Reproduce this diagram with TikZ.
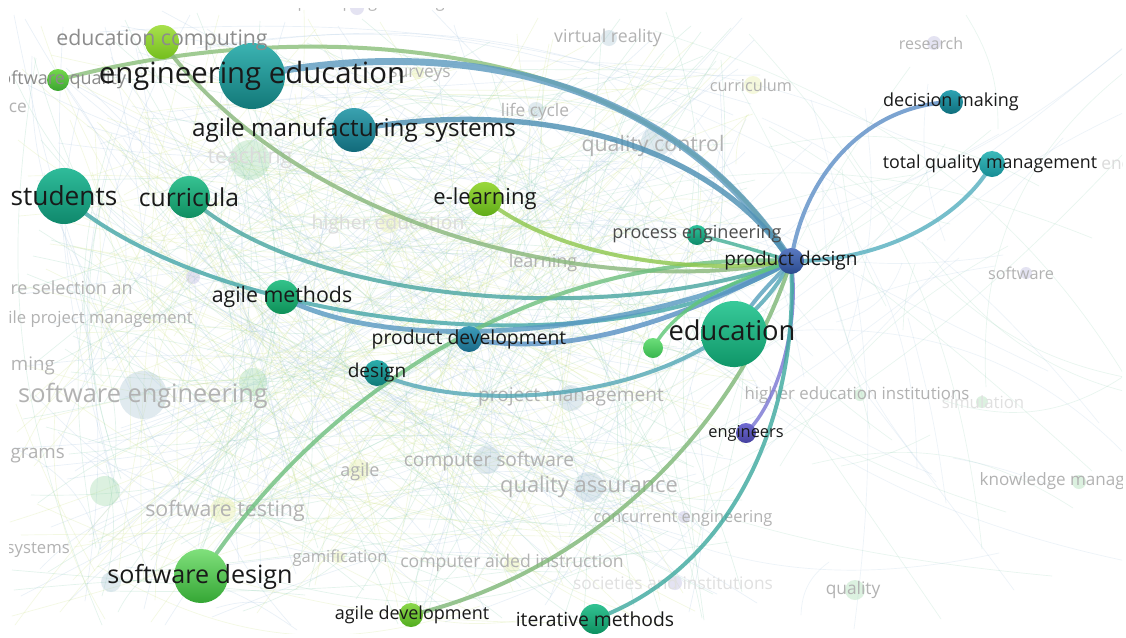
\documentclass[tikz,border=0pt]{standalone}
\usepackage{fontspec}
\setmainfont{Open Sans}
\usepackage{tikz}
\usetikzlibrary{backgrounds}
\usepackage{xcolor}
% node colours (top / bottom of each ball)
\definecolor{eeTop}{HTML}{3BB3B2}  \definecolor{eeBot}{HTML}{127878}
\definecolor{ecTop}{HTML}{A8E04C}  \definecolor{ecBot}{HTML}{74BE1E}
\definecolor{sqTop}{HTML}{74D84C}  \definecolor{sqBot}{HTML}{3AA430}
\definecolor{amTop}{HTML}{3AA2B0}  \definecolor{amBot}{HTML}{116A7A}
\definecolor{stTop}{HTML}{2FBC9A}  \definecolor{stBot}{HTML}{0F886C}
\definecolor{cuTop}{HTML}{36C292}  \definecolor{cuBot}{HTML}{0F8E60}
\definecolor{elTop}{HTML}{9AD83C}  \definecolor{elBot}{HTML}{60AC18}
\definecolor{agTop}{HTML}{32C28A}  \definecolor{agBot}{HTML}{0E9058}
\definecolor{pvTop}{HTML}{3C9CBA}  \definecolor{pvBot}{HTML}{1A6A88}
\definecolor{dsTop}{HTML}{2CAEAC}  \definecolor{dsBot}{HTML}{0F7A78}
\definecolor{peTop}{HTML}{2CC29A}  \definecolor{peBot}{HTML}{0F8A68}
\definecolor{pdTop}{HTML}{5A7AC2}  \definecolor{pdBot}{HTML}{2A4A8E}
\definecolor{dmTop}{HTML}{2CA2B2}  \definecolor{dmBot}{HTML}{0F6E7C}
\definecolor{tqTop}{HTML}{3CBABA}  \definecolor{tqBot}{HTML}{178C94}
\definecolor{edTop}{HTML}{38CA9A}  \definecolor{edBot}{HTML}{0F9668}
\definecolor{sgTop}{HTML}{6CDE7A}  \definecolor{sgBot}{HTML}{38B64E}
\definecolor{enTop}{HTML}{706CD2}  \definecolor{enBot}{HTML}{45409E}
\definecolor{sdTop}{HTML}{80E07C}  \definecolor{sdBot}{HTML}{34A634}
\definecolor{adTop}{HTML}{8CD84C}  \definecolor{adBot}{HTML}{52AC1E}
\definecolor{imTop}{HTML}{32C292}  \definecolor{imBot}{HTML}{0E9060}
% link colours
\definecolor{lkSq}{HTML}{8CC07C}
\definecolor{lkEe}{HTML}{5F9CC0}
\definecolor{lkAm}{HTML}{4E90B4}
\definecolor{lkEc}{HTML}{8AB87C}
\definecolor{lkSt}{HTML}{48A8AA}
\definecolor{lkCu}{HTML}{4BA7A2}
\definecolor{lkAg}{HTML}{5A9AC2}
\definecolor{lkPv}{HTML}{5A92C4}
\definecolor{lkDs}{HTML}{55A8B6}
\definecolor{lkSd}{HTML}{70C080}
\definecolor{lkEl}{HTML}{90C850}
\definecolor{lkPe}{HTML}{48B098}
\definecolor{lkSg}{HTML}{60C878}
\definecolor{lkEd}{HTML}{5AA2BE}
\definecolor{lkEn}{HTML}{7C78D4}
\definecolor{lkIm}{HTML}{40AAA0}
\definecolor{lkAd}{HTML}{80B878}
\definecolor{lkDm}{HTML}{6090C8}
\definecolor{lkTq}{HTML}{58B0C0}
% faint network colours
\definecolor{bg0}{HTML}{8CCFB0}
\definecolor{bg1}{HTML}{A4C4E0}
\definecolor{bg2}{HTML}{CFE488}
\definecolor{fGreen}{HTML}{9CD8A8}
\definecolor{fBlue}{HTML}{A8C4D4}
\definecolor{fYellow}{HTML}{E4EC9C}
\definecolor{fPurple}{HTML}{B4B0DC}
\tikzset{
    % Node styles
    kw/.style n args={3}{
        circle,
        inner sep=0pt,
        draw=none,
        minimum size=#1*1.5pt,
        top color=#2,
        bottom color=#3
    },
    faintkw/.style 2 args={
        circle,
        inner sep=0pt,
        draw=none,
        minimum size=#1*1.5pt,
        fill=#2,
        opacity=0.35
    },
    fsz/.style={font=\fontsize{#1pt}{#1pt}\selectfont},
    kwlabel/.style={text=black!90, inner sep=0pt},
    greylabel/.style={text=black!45, inner sep=0pt},
    faintlabel/.style={text=black!30, inner sep=0pt},
    % Link styles
    link/.style={line cap=round, opacity=0.82},
    bgline/.style={line width=0.5pt, opacity=0.24}
}

\begin{document}
\begin{tikzpicture}[x=0.75pt, y=-0.75pt]
    \useasboundingbox (0,0) rectangle (1126,637);
    \clip (9,8) rectangle (1122,633);

    % Highlighted keywords
    \node[kw={33}{eeTop}{eeBot}] (ee) at (252,76) {};
    \node[kw={17}{ecTop}{ecBot}] (ec) at (162,42) {};
    \node[kw={11}{sqTop}{sqBot}] (sq) at (58,80) {};
    \node[kw={22}{amTop}{amBot}] (am) at (354,130) {};
    \node[kw={28}{stTop}{stBot}] (st) at (64,196) {};
    \node[kw={21}{cuTop}{cuBot}] (cu) at (189,197) {};
    \node[kw={17}{elTop}{elBot}] (el) at (485,199) {};
    \node[kw={17}{agTop}{agBot}] (ag) at (282,297) {};
    \node[kw={13}{pvTop}{pvBot}] (pv) at (469,339) {};
    \node[kw={13}{dsTop}{dsBot}] (ds) at (377,373) {};
    \node[kw={10}{peTop}{peBot}] (pe) at (697,235) {};
    \node[kw={13}{pdTop}{pdBot}] (pd) at (791,261) {};
    \node[kw={12}{dmTop}{dmBot}] (dm) at (951,102) {};
    \node[kw={13}{tqTop}{tqBot}] (tq) at (992,164) {};
    \node[kw={33}{edTop}{edBot}] (ed) at (734,334) {};
    \node[kw={10}{sgTop}{sgBot}] (sg) at (653,348) {};
    \node[kw={10}{enTop}{enBot}] (en) at (746,433) {};
    \node[kw={27}{sdTop}{sdBot}] (sd) at (201,576) {};
    \node[kw={12}{adTop}{adBot}] (ad) at (411,615) {};
    \node[kw={15}{imTop}{imBot}] (im) at (595,619) {};

    % Labels
    \node[greylabel, fsz=16] (ec-l) at (162,40) {education computing};
    \node[greylabel, fsz=13.5] (sq-l) at (59,80) {software quality};
    \node[kwlabel, fsz=22] (ee-l) at (ee) {engineering education};
    \node[kwlabel, fsz=18.2] (am-l) at (am) {agile manufacturing systems};
    \node[kwlabel, fsz=19.7] (st-l) at (st) {students};
    \node[kwlabel, fsz=18.5] (cu-l) at (cu) {curricula};
    \node[kwlabel, fsz=16.5] (el-l) at (el) {e-learning};
    \node[kwlabel, fsz=16] (ag-l) at (ag) {agile methods};
    \node[kwlabel, fsz=14.5] (pv-l) at (pv) {product development};
    \node[kwlabel, fsz=14.3] (ds-l) at (ds) {design};
    \node[text=black!70, inner sep=0pt, fsz=13.5] (pe-l) at (697,234) {process engineering};
    \node[kwlabel, fsz=14.3] (pd-l) at (pd) {product design};
    \node[kwlabel, fsz=13.5] (dm-l) at (dm) {decision making};
    \node[kwlabel, fsz=13.4] (tq-l) at (990,164) {total quality management};
    \node[kwlabel, fsz=20.5] (ed-l) at (732,330) {education};
    \node[kwlabel, fsz=12.3] (en-l) at (en) {engineers};
    \node[kwlabel, fsz=18.8] (sd-l) at (200,577) {software design};
    \node[kwlabel, fsz=13.5] (ad-l) at (412,615) {agile development};
    \node[kwlabel, fsz=14.5] (im-l) at (im) {iterative methods};

    \begin{scope}[on background layer]
        \clip (9,8) rectangle (1122,633);
        \fill[white] (0,0) rectangle (1126,637);

        % Faint network behind
        \pgfmathsetseed{11}
        \foreach \i in {1,...,520}{
            \pgfmathsetmacro{\xa}{random(10,760)}
            \pgfmathsetmacro{\ya}{random(10,630)}
            \pgfmathsetmacro{\xb}{random(10,760)}
            \pgfmathsetmacro{\yb}{random(10,630)}
            \pgfmathsetmacro{\bb}{random(-25,25)}
            \pgfmathtruncatemacro{\cc}{mod(\i,3)}
            \draw[bgline, color=bg\cc] (\xa,\ya) to[bend left=\bb] (\xb,\yb);
        }
        \foreach \i in {1,...,60}{
            \pgfmathsetmacro{\xa}{random(500,1000)}
            \pgfmathsetmacro{\ya}{random(10,630)}
            \pgfmathsetmacro{\xb}{random(800,1200)}
            \pgfmathsetmacro{\yb}{random(10,630)}
            \pgfmathsetmacro{\bb}{random(-30,30)}
            \pgfmathtruncatemacro{\cc}{mod(\i,2)}
            \draw[bgline, opacity=0.2, color=bg\cc] (\xa,\ya) to[bend left=\bb] (\xb,\yb);
        }

        % Faint keywords
        \node[faintkw={7}{fPurple}] (f-cp) at (357,8) {};
        \node[faintkw={20}{fGreen}] (f-te) at (250,160) {};
        \node[faintkw={6}{fYellow}] (f-sv) at (418,73) {};
        \node[faintkw={8}{fBlue}] (f-lc) at (536,110) {};
        \node[faintkw={10}{fYellow}] (f-he) at (389,223) {};
        \node[faintkw={7}{fPurple}] (f-px) at (193,277) {};
        \node[faintkw={8}{fBlue}] (f-vr) at (609,38) {};
        \node[faintkw={9}{fYellow}] (f-cm) at (753,85) {};
        \node[faintkw={7}{fPurple}] (f-rs) at (934,43) {};
        \node[faintkw={15}{fBlue}] (f-qc) at (656,142) {};
        \node[faintkw={6}{fPurple}] (f-sw) at (1026,273) {};
        \node[faintkw={24}{fBlue}] (f-se) at (143,395) {};
        \node[faintkw={14}{fGreen}] (f-g1) at (253,382) {};
        \node[faintkw={15}{fGreen}] (f-g2) at (105,491) {};
        \node[faintkw={10}{fBlue}] (f-b1) at (111,582) {};
        \node[faintkw={11}{fYellow}] (f-ag) at (359,470) {};
        \node[faintkw={13}{fYellow}] (f-st) at (223,510) {};
        \node[faintkw={14}{fBlue}] (f-cs) at (487,460) {};
        \node[faintkw={6}{fYellow}] (f-gm) at (339,557) {};
        \node[faintkw={8}{fYellow}] (f-ci) at (512,565) {};
        \node[faintkw={13}{fBlue}] (f-pm) at (571,398) {};
        \node[faintkw={15}{fBlue}] (f-qa) at (589,487) {};
        \node[faintkw={6}{fPurple}] (f-ce) at (684,517) {};
        \node[faintkw={7}{fPurple}] (f-si) at (675,583) {};
        \node[faintkw={10}{fGreen}] (f-ql) at (855,590) {};
        \node[faintkw={6}{fGreen}] (f-hi) at (860,395) {};
        \node[faintkw={6}{fGreen}] (f-sm) at (982,402) {};
        \node[faintkw={7}{fGreen}] (f-km) at (1079,482) {};

        \node[faintlabel, fsz=12] at (355,4) {computer programming};
        \node[faintlabel, fsz=13] at (420,75) {surveys};
        \node[faintlabel, fsz=13, anchor=east] at (27,108) {ce};
        \node[faintlabel, fsz=13] at (535,112) {life cycle};
        \node[faintlabel, fsz=13.3] at (608,38) {virtual reality};
        \node[faintlabel, fsz=12] at (931,43) {research};
        \node[faintlabel, fsz=12.2] at (751,85) {curriculum};
        \node[faintlabel, text=black!14, fsz=16] at (250,158) {teaching};
        \node[faintlabel, fsz=16] at (653,146) {quality control};
        \node[faintlabel, text=black!14, fsz=14.5] at (388,224) {higher education};
        \node[faintlabel, fsz=13.5] at (543,263) {learning};
        \node[faintlabel, fsz=12.2] at (1021,273) {software};
        \node[faintlabel, text=black!14, fsz=13, anchor=west] at (1101,165) {enc};
        \node[faintlabel, fsz=13.5, anchor=east] at (133,288) {re selection an};
        \node[faintlabel, fsz=12.5, anchor=east] at (193,319) {ile project management};
        \node[faintlabel, fsz=14, anchor=east] at (55,366) {ming};
        \node[faintlabel, fsz=19] at (143,396) {software engineering};
        \node[faintlabel, fsz=14.3] at (571,397) {project management};
        \node[faintlabel, fsz=12.6] at (857,395) {higher education institutions};
        \node[faintlabel, text=black!12, fsz=12.6] at (983,402) {simulation};
        \node[faintlabel, fsz=14, anchor=east] at (65,456) {grams};
        \node[faintlabel, fsz=13.5] at (360,472) {agile};
        \node[faintlabel, fsz=14.4] at (489,461) {computer software};
        \node[faintlabel, fsz=16.4] at (589,487) {quality assurance};
        \node[faintlabel, fsz=12.8] at (1078,481) {knowledge management};
        \node[faintlabel, fsz=16] at (225,511) {software testing};
        \node[faintlabel, fsz=12.3] at (683,518) {concurrent engineering};
        \node[faintlabel, fsz=12.5, anchor=east] at (70,550) {systems};
        \node[faintlabel, fsz=12.4] at (340,558) {gamification};
        \node[faintlabel, fsz=13.2] at (512,563) {computer aided instruction};
        \node[faintlabel, text=black!12, fsz=13] at (673,583) {societies and institutions};
        \node[faintlabel, fsz=13] at (853,590) {quality};

        % Links of product design
        \draw[link, line width=3pt, lkSq] (sq.center) .. controls (300,15) and (650,30) .. (pd.center);
        \draw[link, line width=5.2pt, lkEe] (ee.center) .. controls (430,40) and (660,60) .. (pd.center);
        \draw[link, line width=4pt, lkAm] (am.center) .. controls (480,105) and (690,115) .. (pd.center);
        \draw[link, line width=3pt, lkEc] (ec.center) .. controls (300,230) and (600,300) .. (pd.center);
        \draw[link, line width=3pt, lkSt] (st.center) .. controls (200,320) and (600,380) .. (pd.center);
        \draw[link, line width=3pt, lkCu] (cu.center) .. controls (300,300) and (600,330) .. (pd.center);
        \draw[link, line width=3.6pt, lkAg] (ag.center) .. controls (400,360) and (650,330) .. (pd.center);
        \draw[link, line width=3.6pt, lkPv] (pv.center) .. controls (580,360) and (700,310) .. (pd.center);
        \draw[link, line width=3pt, lkDs] (ds.center) .. controls (480,420) and (720,400) .. (pd.center);
        \draw[link, line width=3pt, lkSd] (sd.center) .. controls (330,380) and (550,250) .. (pd.center);
        \draw[link, line width=3pt, lkEl] (el.center) .. controls (560,260) and (700,275) .. (pd.center);
        \draw[link, line width=2.6pt, lkPe] (pe.center) .. controls (730,242) and (770,255) .. (pd.center);
        \draw[link, line width=2.6pt, lkSg] (sg.center) .. controls (680,300) and (740,280) .. (pd.center);
        \draw[link, line width=3pt, lkEd] (ed.center) .. controls (750,300) and (775,280) .. (pd.center);
        \draw[link, line width=2.6pt, lkEn] (en.center) .. controls (780,400) and (800,320) .. (pd.center);
        \draw[link, line width=3pt, lkIm] (im.center) .. controls (730,570) and (800,420) .. (pd.center);
        \draw[link, line width=3pt, lkAd] (ad.center) .. controls (600,570) and (740,420) .. (pd.center);
        \draw[link, line width=3pt, lkDm] (pd.center) .. controls (805,170) and (870,105) .. (dm.center);
        \draw[link, line width=3pt, lkTq] (pd.center) .. controls (880,262) and (960,220) .. (tq.center);
    \end{scope}
\end{tikzpicture}
\end{document}
